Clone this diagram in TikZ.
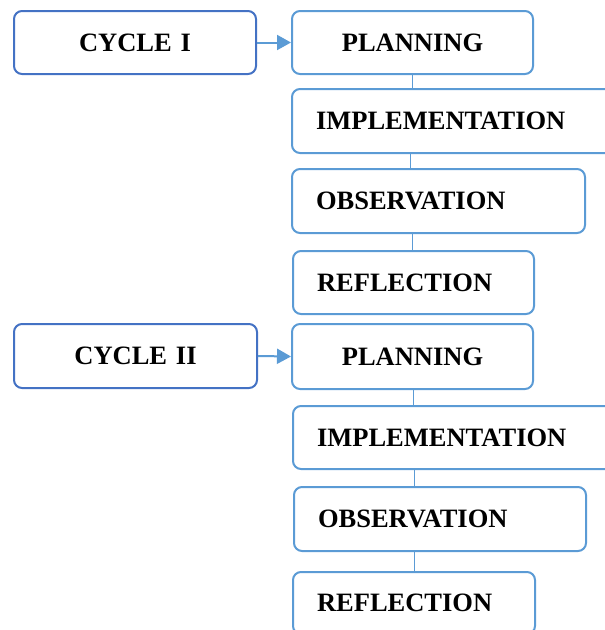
\documentclass[tikz,border=0pt]{standalone}
\usepackage{fontspec}
\setmainfont{Liberation Serif}
\usetikzlibrary{arrows.meta}
\definecolor{cycblue}{HTML}{4472C4}
\definecolor{stepblue}{HTML}{5B9BD5}
\tikzset{
  box/.style={draw=stepblue, line width=2pt, rounded corners=8pt, anchor=north west,
    font=\fontsize{26.5}{30}\selectfont\bfseries, inner ysep=0pt},
  cycbox/.style={box, draw=cycblue, align=center, text width=#1, inner xsep=0pt},
  stagebox/.style={box, align=left, text width=#1, inner xsep=24pt},
  link/.style={stepblue, line width=1pt},
}
\begin{document}
\begin{tikzpicture}[x=1pt, y=-1pt, >={Triangle[length=14pt,width=15pt]}]
  \useasboundingbox (0,0) rectangle (605,630);
  \clip (0,0) rectangle (605,630);

  % siklus I
  \node[cycbox=242, minimum height=63pt] (cyc1) at (13,10) {CYCLE I};
  \node[cycbox=241, draw=stepblue, minimum height=63pt] (plan1) at (291,10) {PLANNING};
  \node[stagebox=282, minimum height=64pt] (impl1) at (291,88) {IMPLEMENTATION};
  \node[stagebox=245, minimum height=64pt] (obs1) at (291,168) {OBSERVATION};
  \node[stagebox=193, minimum height=63pt] (refl1) at (292,250) {REFLECTION};

  % siklus II
  \node[cycbox=243, minimum height=64pt] (cyc2) at (13,323) {CYCLE II};
  \node[cycbox=241, draw=stepblue, minimum height=65pt] (plan2) at (291,323) {PLANNING};
  \node[stagebox=282, minimum height=63pt] (impl2) at (292,405) {IMPLEMENTATION};
  \node[stagebox=244, minimum height=64pt] (obs2) at (293,486) {OBSERVATION};
  \node[stagebox=194, minimum height=62pt] (refl2) at (292,571) {REFLECTION};

  % panah siklus
  \draw[->, stepblue, line width=2pt] (cyc1.east) -- (plan1.west);
  \draw[->, stepblue, line width=2pt] (cyc2.east) -- (plan2.west);

  % garis antar tahap
  \draw[link] (plan1.south) -- (plan1.south |- impl1.north);
  \draw[link] ([xshift=-2pt]plan1.south |- impl1.south) -- ([xshift=-2pt]plan1.south |- obs1.north);
  \draw[link] (plan1.south |- obs1.south) -- (plan1.south |- refl1.north);
  \draw[link] ([xshift=1pt]plan2.south) -- ([xshift=1pt]plan2.south |- impl2.north);
  \draw[link] ([xshift=2pt]plan2.south |- impl2.south) -- ([xshift=2pt]plan2.south |- obs2.north);
  \draw[link] ([xshift=2pt]plan2.south |- obs2.south) -- ([xshift=2pt]plan2.south |- refl2.north);
\end{tikzpicture}
\end{document}
